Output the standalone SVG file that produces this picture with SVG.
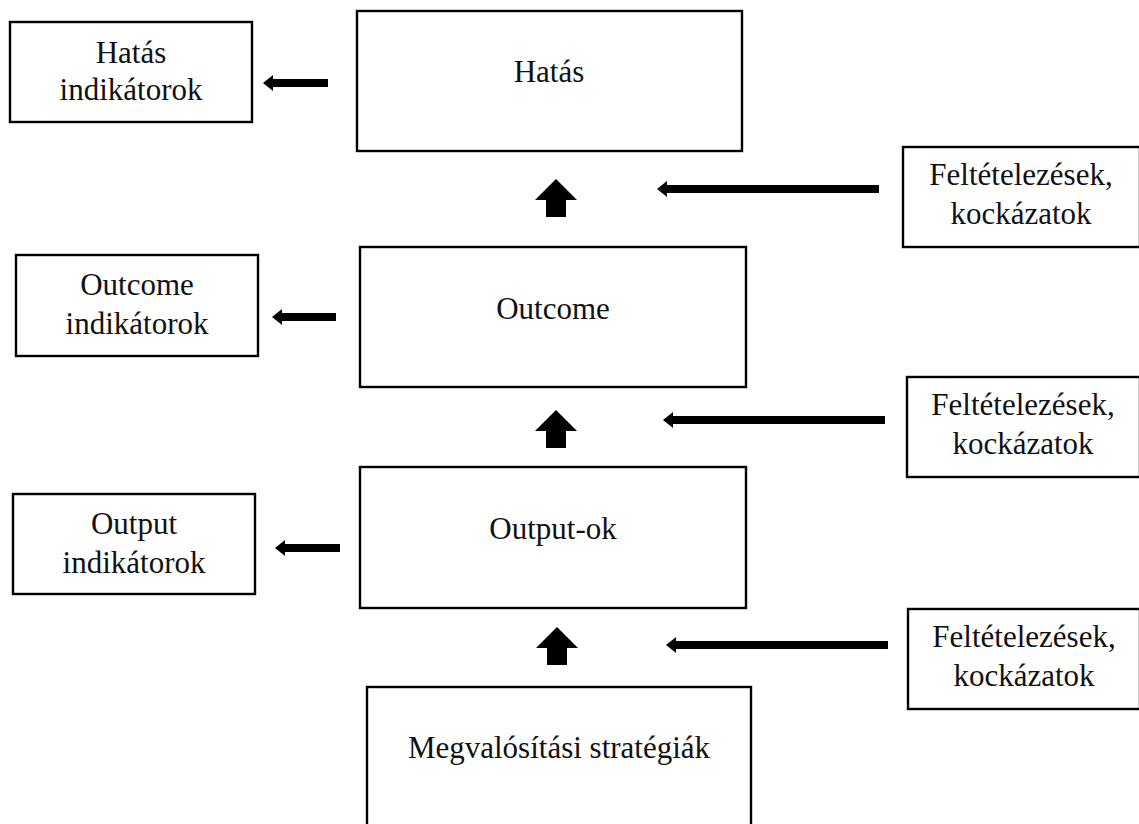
<svg xmlns="http://www.w3.org/2000/svg" width="1139" height="824" viewBox="0 0 1139 824">
  <style>
    .box { fill: #ffffff; stroke: #000000; stroke-width: 2.4; }
    .lbl { font-family: 'Liberation Serif', Tinos, 'DejaVu Serif', serif; font-size: 31px; fill: #111111; text-anchor: middle; }
    .arr { fill: #000000; }
  </style>
  <defs>
    <!-- block up arrow, tip at origin -->
    <path id="upArrow" d="M0,0 L21,21 L10,21 L10,38 L-10,38 L-10,21 L-21,21 Z" />
  </defs>
  <rect width="1139" height="824" fill="#ffffff"/>

  <!-- main chain -->
  <g id="node-hatas">
    <rect class="box" x="357" y="11" width="385" height="140"/>
    <text class="lbl" font-family="Liberation Serif, serif" x="549" y="82">Hatás</text>
  </g>
  <g id="node-outcome">
    <rect class="box" x="360" y="247" width="386" height="140"/>
    <text class="lbl" font-family="Liberation Serif, serif" x="553" y="319">Outcome</text>
  </g>
  <g id="node-output">
    <rect class="box" x="360" y="467" width="386" height="141"/>
    <text class="lbl" font-family="Liberation Serif, serif" x="553" y="539">Output-ok</text>
  </g>
  <g id="node-strategia">
    <rect class="box" x="367" y="687" width="384" height="150"/>
    <text class="lbl" font-family="Liberation Serif, serif" x="559" y="758">Megvalósítási stratégiák</text>
  </g>

  <!-- indicators -->
  <g id="node-hatas-ind">
    <rect class="box" x="10" y="22" width="242" height="100"/>
    <text class="lbl" font-family="Liberation Serif, serif" x="131" y="63">Hatás</text>
    <text class="lbl" font-family="Liberation Serif, serif" x="131" y="100">indikátorok</text>
  </g>
  <g id="node-outcome-ind">
    <rect class="box" x="16" y="255" width="242" height="101"/>
    <text class="lbl" font-family="Liberation Serif, serif" x="137" y="295">Outcome</text>
    <text class="lbl" font-family="Liberation Serif, serif" x="137" y="334">indikátorok</text>
  </g>
  <g id="node-output-ind">
    <rect class="box" x="13" y="494" width="242" height="100"/>
    <text class="lbl" font-family="Liberation Serif, serif" x="134" y="534">Output</text>
    <text class="lbl" font-family="Liberation Serif, serif" x="134" y="573">indikátorok</text>
  </g>

  <!-- assumptions / risks -->
  <g id="node-feltetel-1">
    <rect class="box" x="903" y="147" width="237" height="100"/>
    <text class="lbl" font-family="Liberation Serif, serif" x="1021" y="185">Feltételezések,</text>
    <text class="lbl" font-family="Liberation Serif, serif" x="1021" y="224">kockázatok</text>
  </g>
  <g id="node-feltetel-2">
    <rect class="box" x="907" y="377" width="233" height="100"/>
    <text class="lbl" font-family="Liberation Serif, serif" x="1023" y="415">Feltételezések,</text>
    <text class="lbl" font-family="Liberation Serif, serif" x="1023" y="454">kockázatok</text>
  </g>
  <g id="node-feltetel-3">
    <rect class="box" x="908" y="609" width="232" height="100"/>
    <text class="lbl" font-family="Liberation Serif, serif" x="1024" y="647">Feltételezések,</text>
    <text class="lbl" font-family="Liberation Serif, serif" x="1024" y="686">kockázatok</text>
  </g>

  <!-- connectors -->
  <g id="connectors" class="arr">
    <!-- up arrows between chain boxes -->
    <use href="#upArrow" x="556" y="179"/>
    <use href="#upArrow" x="556" y="410"/>
    <use href="#upArrow" x="557" y="627"/>

    <!-- chain boxes to indicator boxes -->
    <path d="M263,83 L273,75 L273,79 L328,79 L328,87 L273,87 L273,91 Z"/>
    <path d="M272,317 L282,309 L282,313 L336,313 L336,321 L282,321 L282,325 Z"/>
    <path d="M275,548 L285,540 L285,544 L340,544 L340,552 L285,552 L285,556 Z"/>

    <!-- assumptions to the chain -->
    <path d="M657,189 L667,181 L667,185 L879,185 L879,193 L667,193 L667,197 Z"/>
    <path d="M663,420 L673,412 L673,416 L885,416 L885,424 L673,424 L673,428 Z"/>
    <path d="M666,645 L676,637 L676,641 L888,641 L888,649 L676,649 L676,653 Z"/>
  </g>
</svg>
